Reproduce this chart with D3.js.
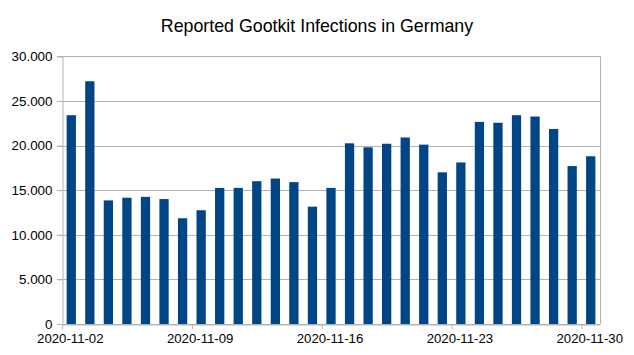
<!DOCTYPE html>
<html>
<head>
<meta charset="utf-8">
<script src="https://cdn.jsdelivr.net/npm/d3@7"></script>
<style>
  html, body { margin: 0; padding: 0; background: #fff; }
  svg { display: block; font-family: "Liberation Sans", Arial, sans-serif; }
</style>
</head>
<body>
<svg id="chart" width="634" height="355"></svg>
<script>
const title = "Reported Gootkit Infections in Germany";
const startDate = "2020-11-02";
const values = [23400, 27200, 13850, 14150, 14250, 14000, 11850, 12750, 15250, 15250,
                16000, 16300, 15900, 13150, 15250, 20250, 19800, 20200, 20900, 20100,
                17000, 18100, 22650, 22550, 23400, 23250, 21850, 17700, 18800];
const xTickLabels = ["2020-11-02", "2020-11-09", "2020-11-16", "2020-11-23", "2020-11-30"];
const yTicks = [0, 5000, 10000, 15000, 20000, 25000, 30000];

const parse = d3.utcParse("%Y-%m-%d");
const fmtDate = d3.utcFormat("%Y-%m-%d");
const start = parse(startDate);
const dates = values.map((v, i) => d3.utcDay.offset(start, i));
const data = values.map((v, i) => ({ date: dates[i], value: v }));

const svg = d3.select("#chart");
const m = { left: 62, right: 34, top: 56.3, bottom: 31 };
const W = 634, H = 355;

const x = d3.scaleUtc()
  .domain([start, d3.utcDay.offset(start, values.length)])
  .range([m.left, W - m.right]);
const y = d3.scaleLinear().domain([0, 30000]).range([H - m.bottom, m.top]);

const dayW = x(d3.utcDay.offset(start, 1)) - x(start);
const barW = dayW * 0.5;

const deFmt = d => d3.format(",")(d).replace(/,/g, ".");

// gridlines
svg.append("g")
  .selectAll("line").data(yTicks).join("line")
  .attr("x1", m.left - 5).attr("x2", W - m.right)
  .attr("y1", d => Math.round(y(d)) + 0.5).attr("y2", d => Math.round(y(d)) + 0.5)
  .attr("stroke", "#b3b3b3").attr("stroke-width", 1);

// right border
svg.append("line")
  .attr("x1", W - m.right + 0.5).attr("x2", W - m.right + 0.5)
  .attr("y1", y(30000)).attr("y2", y(0))
  .attr("stroke", "#b3b3b3");

// bars
svg.append("g")
  .selectAll("rect").data(data).join("rect")
  .attr("x", d => x(d.date) + (dayW - barW) / 2)
  .attr("width", barW)
  .attr("y", d => y(d.value))
  .attr("height", d => y(0) - y(d.value))
  .attr("fill", "#004586");

// y axis
const yAxis = svg.append("g")
  .attr("transform", `translate(${m.left + 0.5},0)`)
  .call(d3.axisLeft(y).tickValues(yTicks).tickFormat(deFmt).tickSize(5).tickPadding(5));
yAxis.select(".domain").attr("stroke", "#b3b3b3");
yAxis.selectAll(".tick line").attr("stroke", "#b3b3b3");
yAxis.selectAll("text").attr("font-size", 13.4).attr("fill", "#000")
  .attr("font-family", "Liberation Sans, Arial, sans-serif");

// x axis
const xAxis = svg.append("g")
  .attr("transform", `translate(0,${Math.round(y(0)) + 0.5})`)
  .call(d3.axisBottom(x).tickValues(xTickLabels.map(parse)).tickFormat(fmtDate).tickSize(5).tickPadding(4).tickSizeOuter(0));
xAxis.select(".domain").attr("stroke", "#b3b3b3");
xAxis.selectAll(".tick line").attr("stroke", "#b3b3b3");
xAxis.selectAll("text").attr("font-size", 13.2).attr("fill", "#000")
  .attr("dx", dayW / 2 - 1.5)
  .attr("font-family", "Liberation Sans, Arial, sans-serif");

// title
svg.append("text")
  .attr("x", 317).attr("y", 32)
  .attr("text-anchor", "middle")
  .attr("font-size", 17.8)
  .attr("fill", "#000")
  .text(title);
</script>
</body>
</html>
